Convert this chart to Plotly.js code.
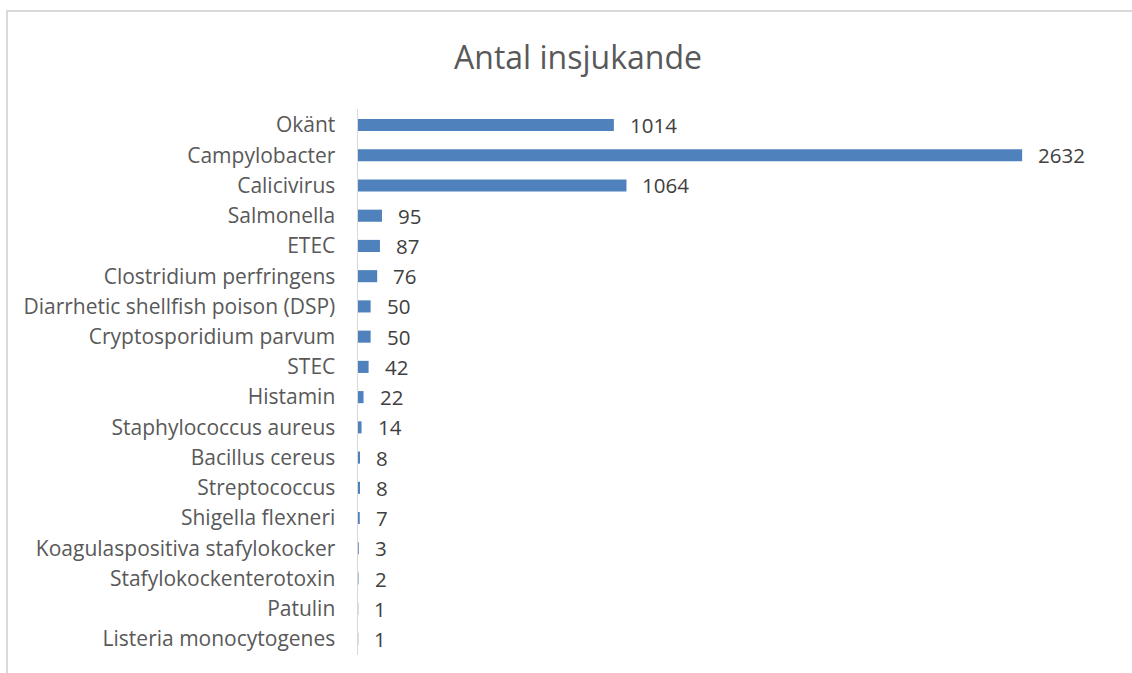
<!DOCTYPE html>
<html>
<head>
<meta charset="utf-8">
<script src="https://cdn.plot.ly/plotly-3.0.1.min.js"></script>
<style>
  html, body { margin: 0; padding: 0; background: #ffffff; width: 1132px; height: 673px; overflow: hidden; }
  #frame { position: absolute; left: 6px; top: 10px; width: 1126px; height: 663px;
           border-left: 2px solid #d9d9d9; border-top: 2px solid #d9d9d9; box-sizing: border-box; }
  #chart { position: absolute; left: 8px; top: 12px; width: 1124px; height: 661px; }
</style>
</head>
<body>
<div id="frame"></div>
<div id="chart"></div>
<script>
const categories = [
  "Okänt", "Campylobacter", "Calicivirus", "Salmonella", "ETEC",
  "Clostridium perfringens", "Diarrhetic shellfish poison (DSP)",
  "Cryptosporidium parvum", "STEC", "Histamin", "Staphylococcus aureus",
  "Bacillus cereus", "Streptococcus", "Shigella flexneri",
  "Koagulaspositiva stafylokocker", "Stafylokockenterotoxin", "Patulin",
  "Listeria monocytogenes"
];
const values = [1014, 2632, 1064, 95, 87, 76, 50, 50, 42, 22, 14, 8, 8, 7, 3, 2, 1, 1];
const chartTitle = "Antal insjukande";

const W = 1124, H = 661;

const trace = {
  type: "bar",
  orientation: "h",
  x: values,
  y: categories,
  marker: { color: "#4f81bd", line: { width: 0 } },
  hoverinfo: "skip"
};

const annotations = values.map((v, i) => ({
  x: v, y: categories[i], xref: "x", yref: "y",
  text: String(v), showarrow: false, xanchor: "left", yanchor: "middle",
  xshift: 14,
  font: { family: "Open Sans, sans-serif", size: 20.5, color: "#404040" }
}));

const layout = {
  width: W, height: H,
  paper_bgcolor: "rgba(0,0,0,0)",
  plot_bgcolor: "rgba(0,0,0,0)",
  margin: { l: 350, r: 17, t: 97, b: 18 },
  bargap: 0.6,
  showlegend: false,
  font: { family: "Open Sans, sans-serif", color: "#595959" },
  title: {
    text: chartTitle,
    font: { family: "Open Sans, sans-serif", size: 32, color: "#595959" },
    xref: "container", yref: "container",
    x: 570 / W, y: 1 - 46 / H, xanchor: "center", yanchor: "middle"
  },
  xaxis: {
    range: [0, 3000],
    visible: false,
    showgrid: false, zeroline: false
  },
  yaxis: {
    type: "category",
    autorange: "reversed",
    showline: true, linecolor: "#d9d9d9", linewidth: 1.5,
    showgrid: false, zeroline: false,
    ticks: "",
    ticklabelstandoff: 17,
    tickfont: { family: "Open Sans, sans-serif", size: 21, color: "#595959" }
  },
  annotations: annotations
};

Plotly.newPlot("chart", [trace], layout, { displayModeBar: false, staticPlot: true });
</script>
</body>
</html>
